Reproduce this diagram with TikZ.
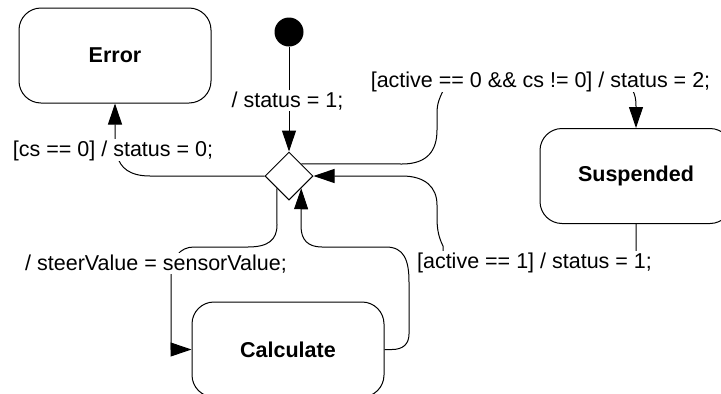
\documentclass[tikz,border=0pt]{standalone}
\usepackage{fontspec}
\setmainfont{Liberation Sans}
\usetikzlibrary{arrows.meta,shapes.geometric,calc}
\begin{document}
\begin{tikzpicture}[x=1pt,y=-1pt,
  labelfont/.style={font=\fontsize{21.5}{26}\selectfont},
  state/.style={draw,rectangle,rounded corners=22pt,minimum width=192pt,
    minimum height=95pt,line width=1pt,
    font=\fontsize{21.5}{26}\selectfont\bfseries},
  trans/.style={draw,line width=1pt,-{Triangle[length=21pt,width=14pt]}},
  guard/.style={labelfont,fill=white,inner sep=1pt,outer sep=0pt,anchor=base},
  ]
  \useasboundingbox (0,0) rectangle (721,394);
  \clip (0,0) rectangle (721,394);

  % states
  \node[state] (err)  at (115,55.5)  {Error};
  \node[state] (sus)  at (636,176)   {Suspended};
  \node[state] (calc) at (288,349.5) {Calculate};

  % initial pseudostate and choice point
  \node[circle,fill=black,minimum size=29pt,inner sep=0pt] (init) at (289,32) {};
  \node[draw,diamond,aspect=1,minimum size=48pt,inner sep=0pt,line width=1pt]
    (dia) at (289,176) {};

  % transitions
  \draw[trans] (init) -- (dia.north);

  \draw[trans] (dia.west) -- (150,176) .. controls (130,176) and (120,168) .. (117,155)
    -- (115,140) -- (err.south);

  \draw[trans] ($(dia.north)!0.5!(dia.east)$) -- (402,164)
    .. controls (428,164) and (437,150) .. (437,130) -- (437,113)
    .. controls (437,103) and (440,97) .. (443,91) -- (443,82) -- (633,82) -- (633,91)
    .. controls (635,95) and (636,99) .. (636,106) -- (sus.north);

  \draw[trans] (sus.south) -- (636,260) -- (443,260) -- (443,246)
    .. controls (439,238) and (437,230) .. (437,218) -- (437,205)
    .. controls (437,187) and (425,176) .. (402,176) -- (dia.east);

  \draw[trans] ($(dia.west)!0.5!(dia.south)$) -- (277,225)
    .. controls (277,240) and (268,247) .. (248,247) -- (194,247)
    .. controls (180,247) and (171,258) .. (171,276) -- (171,349.5) -- (calc.west);

  \draw[trans] (calc.east) -- (392,349.5)
    .. controls (403,349.5) and (409,344) .. (409,334) -- (409,282)
    .. controls (409,260) and (404,247) .. (386,247) -- (322,247)
    .. controls (308,247) and (301,240) .. (301,226)
    -- ($(dia.south)!0.5!(dia.east)$);

  % transition labels
  \node[guard] (l1) at (287.5,107) {/ status = 1;};
  \node[guard] (l2) at (113,156)   {[cs == 0] / status = 0;};
  \node[guard] (l3) at (540.5,87)  {[active == 0 \&\& cs != 0] / status = 2;};
  \node[guard] (l4) at (534.5,268) {[active == 1] / status = 1;};
  \node[guard] (l5) at (156,270)   {/ steerValue = sensorValue;};
\end{tikzpicture}
\end{document}
